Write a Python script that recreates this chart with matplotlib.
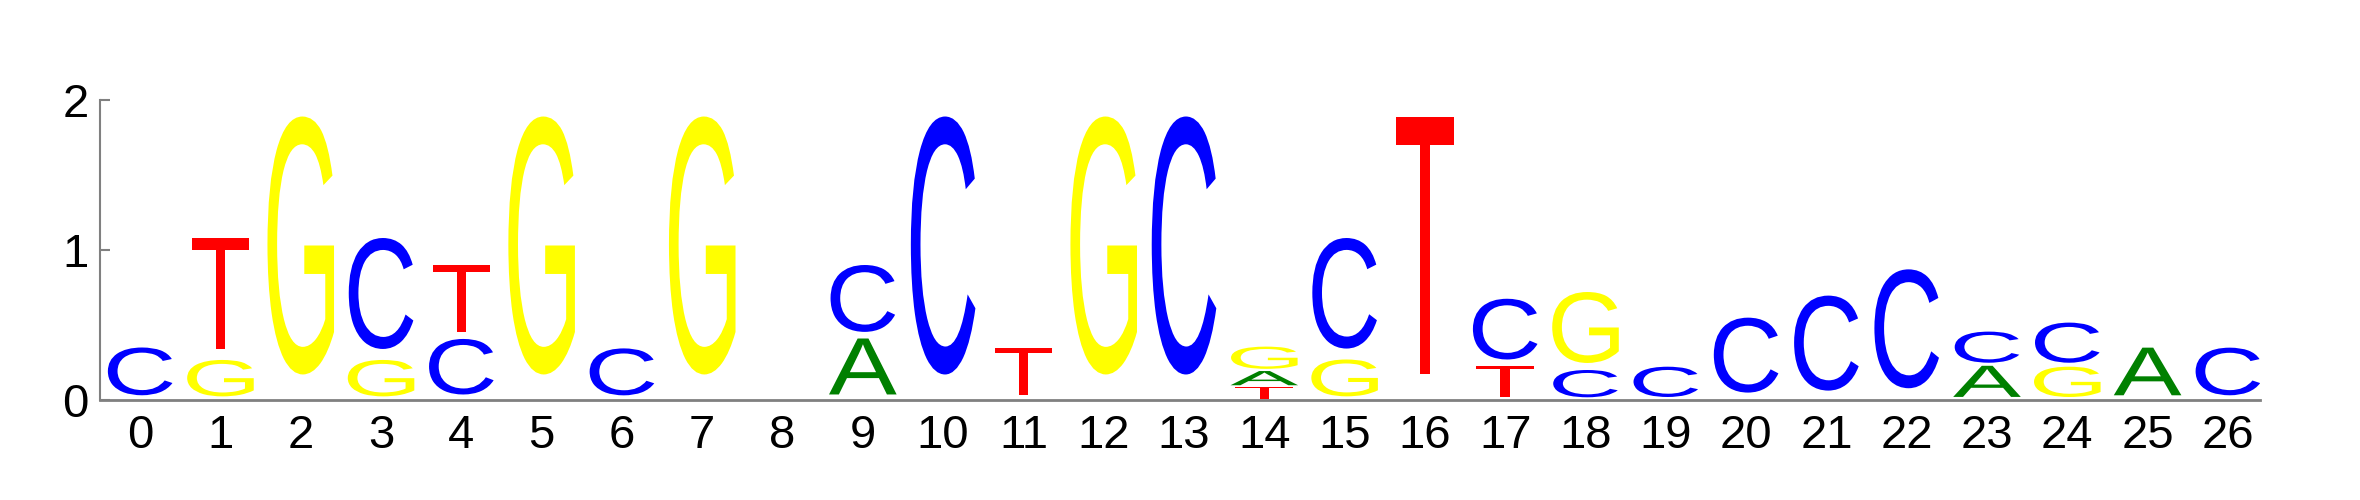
import matplotlib
matplotlib.use('Agg')
import matplotlib.pyplot as plt
from matplotlib.textpath import TextPath
from matplotlib.patches import PathPatch
from matplotlib.font_manager import FontProperties
from matplotlib import transforms

# позиції мотиву та висоти букв (біти)
positions = list(range(27))
A = [0, 0, 0, 0, 0, 0, 0, 0, 0, 0.41, 0, 0, 0, 0, 0.104, 0, 0, 0, 0, 0,
     0, 0, 0, 0.228, 0, 0.349, 0]
C = [0.35, 0, 0, 0.813, 0.407, 0, 0.344, 0, 0, 0.49, 1.89, 0, 0, 1.89, 0,
     0.81, 0, 0.445, 0.2, 0.222, 0.549, 0.696, 0.871, 0.228, 0.294, 0, 0.349]
G = [0, 0.267, 1.89, 0.267, 0, 1.89, 0, 1.89, 0, 0, 0, 0, 1.89, 0, 0.163,
     0.27, 0, 0, 0.52, 0, 0, 0, 0, 0, 0.222, 0, 0]
T = [0, 0.813, 0, 0, 0.493, 0, 0, 0, 0, 0, 0, 0.349, 0, 0, 0.089, 0,
     1.89, 0.23, 0, 0, 0, 0, 0, 0, 0, 0, 0]
y_ticks = [0, 1, 2]

letters = {'A': A, 'C': C, 'G': G, 'T': T}
colors = {'A': '#008000', 'C': '#0000ff', 'G': '#ffff00', 'T': '#ff0000'}

fp = FontProperties(family='Liberation Sans')
x_scale = 1.27      # ширина букви на одиницю розміру шрифту
bottom_pad = 0.09   # частка висоти під буквою


def draw_letter(ax, ch, x, y, h):
    path = TextPath((0, 0), ch, size=1, prop=fp)
    bb = path.get_extents()
    sy = h * (1 - bottom_pad) / bb.height
    t = (transforms.Affine2D()
         .translate(-(bb.x0 + bb.x1) / 2, -bb.y0)
         .scale(x_scale, sy)
         .translate(x, y + h * bottom_pad)) + ax.transData
    ax.add_patch(PathPatch(path, lw=0, fc=colors[ch], transform=t))


fig = plt.figure(figsize=(23.6, 5), dpi=100)
ax = fig.add_axes([100 / 2360, 0.2, 2160 / 2360, 0.6])

for i, x in enumerate(positions):
    # менші букви знизу
    stack = sorted(letters, key=lambda k: letters[k][i])
    y = 0
    for ch in stack:
        h = letters[ch][i]
        if h <= 0:
            continue
        draw_letter(ax, ch, x, y, h)
        y += h

ax.set_xlim(-0.5, 26.4)
ax.set_ylim(0, 2)
ax.set_xticks(positions)
ax.set_yticks(y_ticks)
for s in ['top', 'right']:
    ax.spines[s].set_visible(False)
ax.spines['left'].set_bounds(0, 2)
ax.spines['left'].set_color('#808080')
ax.spines['left'].set_linewidth(1.5)
ax.spines['bottom'].set_color('#808080')
ax.spines['bottom'].set_linewidth(2)
ax.tick_params(axis='y', direction='in', length=7.5, width=1.5,
               color='#808080', pad=8, labelsize=34)
ax.tick_params(axis='x', length=0, pad=10, labelsize=34)
for lab in ax.get_xticklabels() + ax.get_yticklabels():
    lab.set_fontfamily('Liberation Sans')

fig.savefig('out.png', dpi=100)
